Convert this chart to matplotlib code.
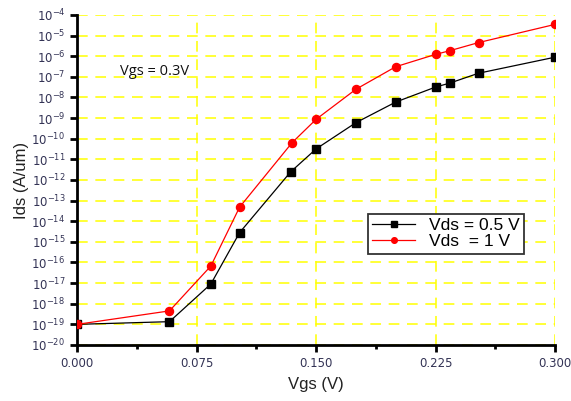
import matplotlib
matplotlib.use("Agg")
import matplotlib.pyplot as plt
from matplotlib.ticker import LogLocator, MultipleLocator, FormatStrFormatter

vgs_05 = [0.0, 0.058, 0.084, 0.102, 0.134, 0.150, 0.175, 0.200, 0.225, 0.234, 0.252, 0.300]
ids_05 = [1.0e-19, 1.35e-19, 9.1e-18, 2.8e-15, 2.45e-12, 3.2e-11, 6.0e-10, 6.0e-9, 3.2e-8, 5.0e-8, 1.5e-7, 9.0e-7]

vgs_1 = [0.0, 0.058, 0.084, 0.102, 0.135, 0.150, 0.175, 0.200, 0.225, 0.234, 0.252, 0.300]
ids_1 = [1.0e-19, 4.5e-19, 6.8e-17, 4.8e-14, 6.5e-11, 8.7e-10, 2.5e-8, 3.1e-7, 1.23e-6, 1.86e-6, 4.6e-6, 3.5e-5]

tick_color = "#333355"

fig = plt.figure(figsize=(5.71, 4.01), dpi=100)
ax = fig.add_axes([0.135, 0.1397, 0.837, 0.8229])

ax.plot(vgs_05, ids_05, "-", color="black", lw=0.9, marker="s", ms=5.5, label="Vds = 0.5 V", zorder=3)
ax.plot(vgs_1, ids_1, "-", color="red", lw=0.9, marker="o", ms=5.8, label="Vds  = 1 V", zorder=4)

ax.set_yscale("log")
ax.set_xlim(0, 0.3)
ax.set_ylim(1e-20, 1e-4)
ax.yaxis.set_major_locator(LogLocator(base=10, numticks=20))
ax.yaxis.set_minor_locator(LogLocator(base=10, subs=[], numticks=20))
ax.xaxis.set_major_locator(MultipleLocator(0.075))
ax.xaxis.set_minor_locator(MultipleLocator(0.0375))
ax.xaxis.set_major_formatter(FormatStrFormatter("%.3f"))

for s in ["top", "right"]:
    ax.spines[s].set_visible(False)
for s in ["left", "bottom"]:
    ax.spines[s].set_linewidth(2)

ax.tick_params(which="major", direction="out", length=5, width=2, labelsize=8.5, labelcolor=tick_color)
ax.tick_params(which="minor", direction="out", length=3, width=2)
ax.tick_params(axis="x", pad=3.5)

ax.grid(True, which="major", color="#ffff00", linestyle=(0, (7, 5)), linewidth=1.1, zorder=0)

ax.set_xlabel("Vgs (V)", fontsize=12, family="Liberation Sans", labelpad=5, color="#222222")
ax.set_ylabel("Ids (A/um)", fontsize=12, family="Liberation Sans", labelpad=2, color="#222222")

ax.text(0.027, 1.3e-7, "Vgs = 0.3V", fontsize=10.5, family="Open Sans", color="#111111")

leg = ax.legend(loc="upper left", bbox_to_anchor=(0.608, 0.398), fancybox=False, edgecolor="#333333",
                framealpha=1, borderpad=0.25, handlelength=2.5, labelspacing=0.05, markerscale=0.7,
                borderaxespad=0, prop={"family": "Liberation Sans", "size": 12.5})
leg.get_frame().set_linewidth(1.3)

fig.savefig("out.png", dpi=100)
